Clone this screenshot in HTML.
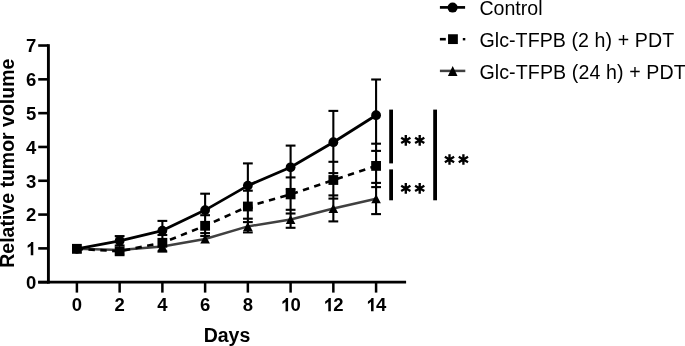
<!DOCTYPE html><html><head><meta charset="utf-8"><style>html,body{margin:0;padding:0;background:#fff;overflow:hidden}svg{display:block}text{font-family:"Liberation Sans",sans-serif}</style></head><body>
<svg style="will-change:transform" width="685" height="346" viewBox="0 0 685 346">
<line x1="48.4" y1="44.2" x2="48.4" y2="283.6" stroke="#000" stroke-width="2.9"/>
<line x1="38.2" y1="282.2" x2="406.1" y2="282.2" stroke="#000" stroke-width="2.7"/>
<line x1="38.2" y1="282.20" x2="48.4" y2="282.20" stroke="#000" stroke-width="2.6"/>
<text x="36.3" y="289.00" font-size="18.5" font-weight="bold" text-anchor="end">0</text>
<line x1="38.2" y1="248.39" x2="48.4" y2="248.39" stroke="#000" stroke-width="2.6"/>
<path transform="translate(26.01 255.19) scale(0.009033 -0.009033)" d="M806 0L525 0L525 1040Q371 890 180 810L180 1080Q272 1137 401 1237Q530 1338 578 1472L806 1472Z" fill="#000"/>
<line x1="38.2" y1="214.58" x2="48.4" y2="214.58" stroke="#000" stroke-width="2.6"/>
<text x="36.3" y="221.38" font-size="18.5" font-weight="bold" text-anchor="end">2</text>
<line x1="38.2" y1="180.77" x2="48.4" y2="180.77" stroke="#000" stroke-width="2.6"/>
<text x="36.3" y="187.57" font-size="18.5" font-weight="bold" text-anchor="end">3</text>
<line x1="38.2" y1="146.96" x2="48.4" y2="146.96" stroke="#000" stroke-width="2.6"/>
<text x="36.3" y="153.76" font-size="18.5" font-weight="bold" text-anchor="end">4</text>
<line x1="38.2" y1="113.15" x2="48.4" y2="113.15" stroke="#000" stroke-width="2.6"/>
<text x="36.3" y="119.95" font-size="18.5" font-weight="bold" text-anchor="end">5</text>
<line x1="38.2" y1="79.34" x2="48.4" y2="79.34" stroke="#000" stroke-width="2.6"/>
<text x="36.3" y="86.14" font-size="18.5" font-weight="bold" text-anchor="end">6</text>
<line x1="38.2" y1="45.53" x2="48.4" y2="45.53" stroke="#000" stroke-width="2.6"/>
<text x="36.3" y="52.33" font-size="18.5" font-weight="bold" text-anchor="end">7</text>
<line x1="76.90" y1="282.2" x2="76.90" y2="292.6" stroke="#000" stroke-width="2.5"/>
<text x="76.90" y="311.2" font-size="18.5" font-weight="bold" text-anchor="middle">0</text>
<line x1="119.64" y1="282.2" x2="119.64" y2="292.6" stroke="#000" stroke-width="2.5"/>
<text x="119.64" y="311.2" font-size="18.5" font-weight="bold" text-anchor="middle">2</text>
<line x1="162.38" y1="282.2" x2="162.38" y2="292.6" stroke="#000" stroke-width="2.5"/>
<text x="162.38" y="311.2" font-size="18.5" font-weight="bold" text-anchor="middle">4</text>
<line x1="205.12" y1="282.2" x2="205.12" y2="292.6" stroke="#000" stroke-width="2.5"/>
<text x="205.12" y="311.2" font-size="18.5" font-weight="bold" text-anchor="middle">6</text>
<line x1="247.86" y1="282.2" x2="247.86" y2="292.6" stroke="#000" stroke-width="2.5"/>
<text x="247.86" y="311.2" font-size="18.5" font-weight="bold" text-anchor="middle">8</text>
<line x1="290.60" y1="282.2" x2="290.60" y2="292.6" stroke="#000" stroke-width="2.5"/>
<path transform="translate(280.81 311.20) scale(0.009033 -0.009033)" d="M806 0L525 0L525 1040Q371 890 180 810L180 1080Q272 1137 401 1237Q530 1338 578 1472L806 1472Z" fill="#000"/>
<text x="290.60" y="311.2" font-size="18.5" font-weight="bold">0</text>
<line x1="333.34" y1="282.2" x2="333.34" y2="292.6" stroke="#000" stroke-width="2.5"/>
<path transform="translate(323.55 311.20) scale(0.009033 -0.009033)" d="M806 0L525 0L525 1040Q371 890 180 810L180 1080Q272 1137 401 1237Q530 1338 578 1472L806 1472Z" fill="#000"/>
<text x="333.34" y="311.2" font-size="18.5" font-weight="bold">2</text>
<line x1="376.08" y1="282.2" x2="376.08" y2="292.6" stroke="#000" stroke-width="2.5"/>
<path transform="translate(366.29 311.20) scale(0.009033 -0.009033)" d="M806 0L525 0L525 1040Q371 890 180 810L180 1080Q272 1137 401 1237Q530 1338 578 1472L806 1472Z" fill="#000"/>
<text x="376.08" y="311.2" font-size="18.5" font-weight="bold">4</text>
<text x="227" y="341.8" font-size="19.5" font-weight="bold" text-anchor="middle">Days</text>
<text transform="translate(13.9 163.2) rotate(-90)" x="0" y="0" font-size="19.5" font-weight="bold" text-anchor="middle">Relative tumor volume</text>
<line x1="119.64" y1="236.10" x2="119.64" y2="245.50" stroke="#000" stroke-width="2.1"/>
<line x1="114.74" y1="236.10" x2="124.54" y2="236.10" stroke="#000" stroke-width="2.1"/>
<line x1="114.74" y1="245.50" x2="124.54" y2="245.50" stroke="#000" stroke-width="2.1"/>
<line x1="162.38" y1="220.90" x2="162.38" y2="251.60" stroke="#000" stroke-width="2.1"/>
<line x1="157.48" y1="220.90" x2="167.28" y2="220.90" stroke="#000" stroke-width="2.1"/>
<line x1="157.48" y1="235.00" x2="167.28" y2="235.00" stroke="#000" stroke-width="2.1"/>
<line x1="157.48" y1="251.60" x2="167.28" y2="251.60" stroke="#000" stroke-width="2.1"/>
<line x1="205.12" y1="193.70" x2="205.12" y2="236.00" stroke="#000" stroke-width="2.1"/>
<line x1="200.22" y1="193.70" x2="210.02" y2="193.70" stroke="#000" stroke-width="2.1"/>
<line x1="200.22" y1="215.20" x2="210.02" y2="215.20" stroke="#000" stroke-width="2.1"/>
<line x1="200.22" y1="233.10" x2="210.02" y2="233.10" stroke="#000" stroke-width="2.1"/>
<line x1="200.22" y1="236.00" x2="210.02" y2="236.00" stroke="#000" stroke-width="2.1"/>
<line x1="247.86" y1="163.40" x2="247.86" y2="232.40" stroke="#000" stroke-width="2.1"/>
<line x1="242.96" y1="163.40" x2="252.76" y2="163.40" stroke="#000" stroke-width="2.1"/>
<line x1="242.96" y1="190.70" x2="252.76" y2="190.70" stroke="#000" stroke-width="2.1"/>
<line x1="242.96" y1="207.80" x2="252.76" y2="207.80" stroke="#000" stroke-width="2.1"/>
<line x1="242.96" y1="218.70" x2="252.76" y2="218.70" stroke="#000" stroke-width="2.1"/>
<line x1="242.96" y1="222.10" x2="252.76" y2="222.10" stroke="#000" stroke-width="2.1"/>
<line x1="242.96" y1="232.40" x2="252.76" y2="232.40" stroke="#000" stroke-width="2.1"/>
<line x1="290.60" y1="145.60" x2="290.60" y2="227.80" stroke="#000" stroke-width="2.1"/>
<line x1="285.70" y1="145.60" x2="295.50" y2="145.60" stroke="#000" stroke-width="2.1"/>
<line x1="285.70" y1="177.40" x2="295.50" y2="177.40" stroke="#000" stroke-width="2.1"/>
<line x1="285.70" y1="189.00" x2="295.50" y2="189.00" stroke="#000" stroke-width="2.1"/>
<line x1="285.70" y1="209.80" x2="295.50" y2="209.80" stroke="#000" stroke-width="2.1"/>
<line x1="285.70" y1="213.50" x2="295.50" y2="213.50" stroke="#000" stroke-width="2.1"/>
<line x1="285.70" y1="227.80" x2="295.50" y2="227.80" stroke="#000" stroke-width="2.1"/>
<line x1="333.34" y1="110.90" x2="333.34" y2="221.40" stroke="#000" stroke-width="2.1"/>
<line x1="328.44" y1="110.90" x2="338.24" y2="110.90" stroke="#000" stroke-width="2.1"/>
<line x1="328.44" y1="161.80" x2="338.24" y2="161.80" stroke="#000" stroke-width="2.1"/>
<line x1="328.44" y1="173.10" x2="338.24" y2="173.10" stroke="#000" stroke-width="2.1"/>
<line x1="328.44" y1="195.40" x2="338.24" y2="195.40" stroke="#000" stroke-width="2.1"/>
<line x1="328.44" y1="198.60" x2="338.24" y2="198.60" stroke="#000" stroke-width="2.1"/>
<line x1="328.44" y1="221.40" x2="338.24" y2="221.40" stroke="#000" stroke-width="2.1"/>
<line x1="376.08" y1="79.50" x2="376.08" y2="214.10" stroke="#000" stroke-width="2.1"/>
<line x1="371.18" y1="79.50" x2="380.98" y2="79.50" stroke="#000" stroke-width="2.1"/>
<line x1="371.18" y1="143.70" x2="380.98" y2="143.70" stroke="#000" stroke-width="2.1"/>
<line x1="371.18" y1="150.90" x2="380.98" y2="150.90" stroke="#000" stroke-width="2.1"/>
<line x1="371.18" y1="182.90" x2="380.98" y2="182.90" stroke="#000" stroke-width="2.1"/>
<line x1="371.18" y1="187.10" x2="380.98" y2="187.10" stroke="#000" stroke-width="2.1"/>
<line x1="371.18" y1="214.10" x2="380.98" y2="214.10" stroke="#000" stroke-width="2.1"/>
<polyline points="76.90,248.80 119.64,250.00 162.38,246.50 205.12,239.00 247.86,226.40 290.60,219.50 333.34,208.50 376.08,198.70" fill="none" stroke="#404040" stroke-width="2.5" stroke-linejoin="round"/>
<polyline points="76.90,248.80 119.64,240.80 162.38,230.60 205.12,210.10 247.86,185.60 290.60,167.30 333.34,142.20 376.08,115.20" fill="none" stroke="#000" stroke-width="2.8" stroke-linejoin="round"/>
<polyline points="76.90,248.80 119.64,251.30 162.38,242.80 205.12,225.80 247.86,206.50 290.60,194.40 333.34,180.00 376.08,165.90" fill="none" stroke="#000" stroke-width="2.6" stroke-dasharray="6.4 5.45" stroke-dashoffset="0.25"/>
<circle cx="76.90" cy="248.80" r="4.9" fill="#000"/>
<circle cx="119.64" cy="240.80" r="4.9" fill="#000"/>
<circle cx="162.38" cy="230.60" r="4.9" fill="#000"/>
<circle cx="205.12" cy="210.10" r="4.9" fill="#000"/>
<circle cx="247.86" cy="185.60" r="4.9" fill="#000"/>
<circle cx="290.60" cy="167.30" r="4.9" fill="#000"/>
<circle cx="333.34" cy="142.20" r="4.9" fill="#000"/>
<circle cx="376.08" cy="115.20" r="4.9" fill="#000"/>
<polygon points="76.90,244.30 81.70,253.30 72.10,253.30" fill="#000"/>
<polygon points="119.64,245.50 124.44,254.50 114.84,254.50" fill="#000"/>
<polygon points="162.38,242.00 167.18,251.00 157.58,251.00" fill="#000"/>
<polygon points="205.12,234.50 209.92,243.50 200.32,243.50" fill="#000"/>
<polygon points="247.86,221.90 252.66,230.90 243.06,230.90" fill="#000"/>
<polygon points="290.60,215.00 295.40,224.00 285.80,224.00" fill="#000"/>
<polygon points="333.34,204.00 338.14,213.00 328.54,213.00" fill="#000"/>
<polygon points="376.08,194.20 380.88,203.20 371.28,203.20" fill="#000"/>
<rect x="72.00" y="243.90" width="9.8" height="9.8" fill="#000"/>
<rect x="114.74" y="246.40" width="9.8" height="9.8" fill="#000"/>
<rect x="157.48" y="237.90" width="9.8" height="9.8" fill="#000"/>
<rect x="200.22" y="220.90" width="9.8" height="9.8" fill="#000"/>
<rect x="242.96" y="201.60" width="9.8" height="9.8" fill="#000"/>
<rect x="285.70" y="189.50" width="9.8" height="9.8" fill="#000"/>
<rect x="328.44" y="175.10" width="9.8" height="9.8" fill="#000"/>
<rect x="371.18" y="161.00" width="9.8" height="9.8" fill="#000"/>
<line x1="391.1" y1="109.6" x2="391.1" y2="163.4" stroke="#000" stroke-width="3.8"/>
<line x1="391.1" y1="169.4" x2="391.1" y2="200.3" stroke="#000" stroke-width="3.8"/>
<line x1="435.1" y1="109.6" x2="435.1" y2="200.3" stroke="#000" stroke-width="3.8"/>
<path d="M405.80 145.75L405.80 135.05M401.17 143.08L410.43 137.72M410.43 143.08L401.17 137.72" stroke="#000" stroke-width="2.35" fill="none"/>
<path d="M419.70 145.75L419.70 135.05M415.07 143.08L424.33 137.72M424.33 143.08L415.07 137.72" stroke="#000" stroke-width="2.35" fill="none"/>
<path d="M405.80 193.75L405.80 183.05M401.17 191.08L410.43 185.72M410.43 191.08L401.17 185.72" stroke="#000" stroke-width="2.35" fill="none"/>
<path d="M419.70 193.75L419.70 183.05M415.07 191.08L424.33 185.72M424.33 191.08L415.07 185.72" stroke="#000" stroke-width="2.35" fill="none"/>
<path d="M449.50 164.85L449.50 154.15M444.87 162.18L454.13 156.82M454.13 162.18L444.87 156.82" stroke="#000" stroke-width="2.35" fill="none"/>
<path d="M463.40 164.85L463.40 154.15M458.77 162.18L468.03 156.82M468.03 162.18L458.77 156.82" stroke="#000" stroke-width="2.35" fill="none"/>
<line x1="439.9" y1="7.4" x2="465.1" y2="7.4" stroke="#000" stroke-width="2.7"/>
<circle cx="452.60" cy="7.60" r="5.0" fill="#000"/>
<line x1="439.9" y1="39.2" x2="445.8" y2="39.2" stroke="#000" stroke-width="2.6"/>
<line x1="462.8" y1="39.2" x2="465.3" y2="39.2" stroke="#000" stroke-width="2.4"/>
<rect x="448.05" y="34.25" width="9.8" height="9.8" fill="#000"/>
<line x1="439.9" y1="70.9" x2="465.3" y2="70.9" stroke="#404040" stroke-width="2.5"/>
<polygon points="452.70,65.90 457.50,75.90 447.90,75.90" fill="#000"/>
<text x="479.4" y="14.6" font-size="19.6">Control</text>
<text x="479.4" y="46.5" font-size="19.6" textLength="194.7" lengthAdjust="spacing">Glc-TFPB (2 h) + PDT</text>
<text x="479.4" y="78.9" font-size="19.6" textLength="206.3" lengthAdjust="spacing">Glc-TFPB (24 h) + PDT</text>
</svg></body></html>
